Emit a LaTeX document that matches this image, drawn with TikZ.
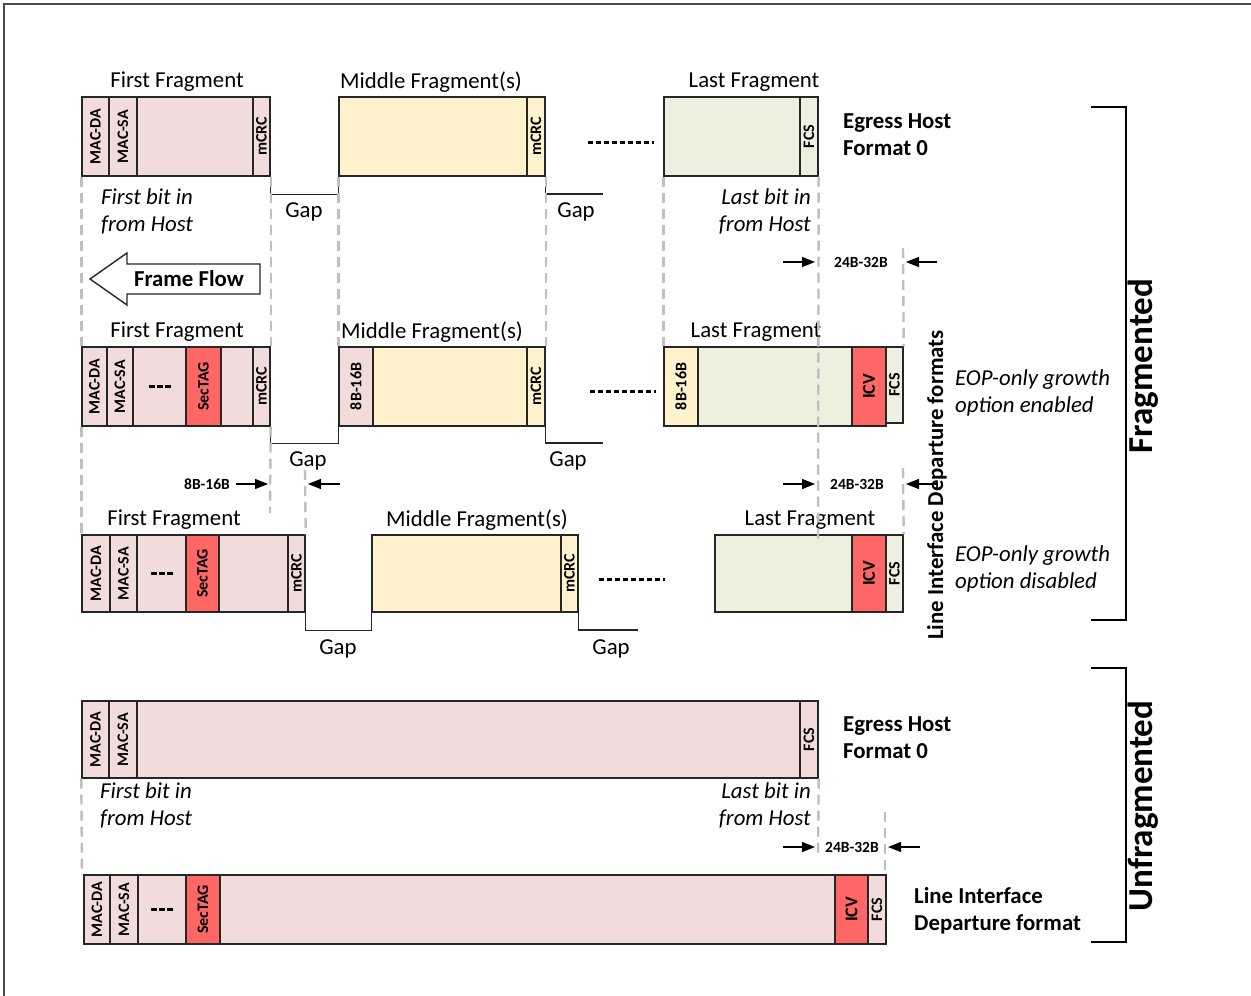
\documentclass[tikz,border=0pt]{standalone}
\usepackage{fontspec}
\setmainfont{Carlito}
\usetikzlibrary{arrows.meta}
\definecolor{pk}{HTML}{F2DCDB}
\definecolor{yl}{HTML}{FFF2CC}
\definecolor{gn}{HTML}{EBF1DE}
\definecolor{rd}{HTML}{FF6666}
\definecolor{gl}{HTML}{BFBFBF}
\definecolor{bd}{HTML}{262626}
\newcommand{\mainsz}{\fontsize{22.8}{27}\selectfont}
\newcommand{\cellfont}{\fontsize{16}{17}\selectfont\bfseries}
\newcommand{\dimfont}{\fontsize{15.5}{17}\selectfont\bfseries}
\newcommand{\bigsz}{\fontsize{35}{38}\selectfont\bfseries}
\newcommand{\rv}[1]{\rotatebox{90}{#1}}
\newcommand{\threedash}{\rule{6pt}{3.5pt}\hspace{2pt}\rule{6pt}{3.5pt}\hspace{2pt}\rule{6pt}{3.5pt}}
\newcommand{\pcell}[7]{\node[cellbox, fill=#6, minimum width={(#4-#2)*1pt}, minimum height={(#5-#3)*1pt}] (#1) at ({(#2+#4)/2},{(#3+#5)/2}) {#7};}
\tikzset{
  cellbox/.style={draw=bd, line width=1.4pt, inner sep=0pt, font=\cellfont},
  lbl/.style={font=\mainsz, inner sep=0pt},
  blbl/.style={font=\mainsz\bfseries, align=left, inner sep=0pt},
  ilbl/.style={font=\mainsz\itshape, inner sep=0pt},
  dimlbl/.style={font=\dimfont, inner sep=0pt},
  guide/.style={draw=gl, line width=2.4pt, dash pattern=on 10pt off 6pt},
  gapline/.style={draw=bd, line width=1.5pt},
  dimarrow/.style={-{Triangle[length=13pt,width=10pt]}, line width=1.4pt},
  dotline/.style={line width=3pt, dash pattern=on 5pt off 3pt},
  brk/.style={line width=2.5pt},
}
\begin{document}
\begin{tikzpicture}[x=1pt,y=-1pt]
\useasboundingbox (0,0) rectangle (1251,996);
\draw[line width=1.5pt, draw=gray!60!black] (4,996) -- (4,4) -- (1251,4);

% ---------- Row 1 : Egress host, fragmented ----------
\pcell{f1a}{82}{97}{109}{176}{pk}{\rv{MAC-DA}}
\pcell{f1b}{109}{97}{137}{176}{pk}{\rv{MAC-SA}}
\pcell{f1c}{137}{97}{253}{176}{pk}{}
\pcell{f1d}{253}{97}{270}{176}{pk}{\rv{mCRC}}
\pcell{m1a}{339}{97}{527}{176}{yl}{}
\pcell{m1b}{527}{97}{545}{176}{yl}{\rv{mCRC}}
\pcell{l1a}{664}{97}{800}{176}{gn}{}
\pcell{l1b}{800}{97}{818}{176}{gn}{\rv{FCS}}
\node[lbl] (t1a) at (177,82) {First Fragment};
\node[lbl] (t1b) at (431,82) {Middle Fragment(s)};
\node[lbl] (t1c) at (754,82) {Last Fragment};
\node[blbl, anchor=west] (eg1) at (843,134.5) {Egress Host\\Format 0};
\draw[gapline] (f1d.south east) -- ++(0,18) -| (m1a.south west);
\coordinate (g1e) at (603,194);
\draw[gapline] (m1b.south east) |- (g1e);
\node[lbl] (gap1) at (304,212) {Gap};
\node[lbl] (gap2) at (576,212) {Gap};
\coordinate (d1s) at (588,142); \coordinate (d1e) at (654,142);
\draw[dotline] (d1s) -- (d1e);
\node[ilbl, align=left, anchor=west] (fb1) at (101,211.5) {First bit in\\from Host};
\node[ilbl, align=right, anchor=east] (lb1) at (811,211.5) {Last bit in\\from Host};

% Frame flow arrow
\draw[line width=1.4pt, draw=bd, fill=white] (90,279) -- (127,253) -- (127,264) -- (260,264) -- (260,294) -- (127,294) -- (127,305) -- cycle;
\node[font=\mainsz\bfseries, inner sep=0pt] (ff) at (189,279) {Frame Flow};

% ---------- Row 2 ----------
\pcell{f2a}{82}{347}{107}{426}{pk}{\rv{MAC-DA}}
\pcell{f2b}{107}{347}{133}{426}{pk}{\rv{MAC-SA}}
\pcell{f2c}{133}{347}{186}{426}{pk}{\threedash}
\pcell{f2d}{186}{347}{221}{426}{rd}{\rv{SecTAG}}
\pcell{f2e}{221}{347}{253}{426}{pk}{}
\pcell{f2f}{253}{347}{270}{426}{pk}{\rv{mCRC}}
\pcell{m2a}{339}{347}{373}{426}{pk}{\rv{8B-16B}}
\pcell{m2b}{373}{347}{527}{426}{yl}{}
\pcell{m2c}{527}{347}{545}{426}{yl}{\rv{mCRC}}
\pcell{l2a}{664}{347}{698}{426}{yl}{\rv{8B-16B}}
\pcell{l2b}{698}{347}{852}{426}{gn}{}
\pcell{l2c}{852}{347}{886}{426}{rd}{\rv{\fontsize{18}{19}\selectfont ICV}}
\pcell{l2d}{886}{347}{903}{423}{gn}{\rv{FCS}}
\node[lbl] (t2a) at (177,332) {First Fragment};
\node[lbl] (t2b) at (432,332) {Middle Fragment(s)};
\node[lbl] (t2c) at (756,332) {Last Fragment};
\draw[gapline] (f2f.south east) -- ++(0,17) -| (m2a.south west);
\coordinate (g2e) at (603,443);
\draw[gapline] (m2c.south east) |- (g2e);
\node[lbl] (gap3) at (308,461) {Gap};
\node[lbl] (gap4) at (568,461) {Gap};
\coordinate (d2s) at (590,391); \coordinate (d2e) at (656,391);
\draw[dotline] (d2s) -- (d2e);
\node[ilbl, align=left, anchor=west] (eop1) at (955,392.5) {EOP-only growth\\option enabled};

% ---------- Row 3 ----------
\pcell{f3a}{82}{535}{110}{612}{pk}{\rv{MAC-DA}}
\pcell{f3b}{110}{535}{137}{612}{pk}{\rv{MAC-SA}}
\pcell{f3c}{137}{535}{186}{612}{pk}{\threedash}
\pcell{f3d}{186}{535}{219}{612}{rd}{\rv{SecTAG}}
\pcell{f3e}{219}{535}{288}{612}{pk}{}
\pcell{f3f}{288}{535}{305}{612}{pk}{\rv{mCRC}}
\pcell{m3a}{372}{535}{561}{612}{yl}{}
\pcell{m3b}{561}{535}{578}{612}{yl}{\rv{mCRC}}
\pcell{l3a}{715}{535}{852}{612}{gn}{}
\pcell{l3b}{852}{535}{886}{612}{rd}{\rv{\fontsize{18}{19}\selectfont ICV}}
\pcell{l3c}{886}{535}{903}{612}{gn}{\rv{FCS}}
\node[lbl] (t3a) at (174,520) {First Fragment};
\node[lbl] (t3b) at (477,520) {Middle Fragment(s)};
\node[lbl] (t3c) at (810,520) {Last Fragment};
\draw[gapline] (f3f.south east) -- ++(0,18) -| (m3a.south west);
\coordinate (g3e) at (638,630);
\draw[gapline] (m3b.south east) |- (g3e);
\node[lbl] (gap5) at (338,649) {Gap};
\node[lbl] (gap6) at (611,649) {Gap};
\coordinate (d3s) at (599,579); \coordinate (d3e) at (665,579);
\draw[dotline] (d3s) -- (d3e);
\node[ilbl, align=left, anchor=west] (eop2) at (955,568.5) {EOP-only growth\\option disabled};
\node[font=\mainsz\bfseries, rotate=90, inner sep=0pt] (lidf) at (937,485) {Line Interface Departure formats};

% guides rows 1-3
\draw[guide] (f1a.south west) -- (f2a.north west);
\draw[guide] (f1d.south east) -- (f2f.north east);
\draw[guide] (m1a.south west) -- (m2a.north west);
\draw[guide] (m1b.south east) -- (m2c.north east);
\draw[guide] (l1a.south west) -- (l2a.north west);
\draw[guide] (l1b.south east) -- (818,542);
\draw[guide] (903,248) -- (l2d.north east);
\draw[guide] (f2a.south west) -- (f3a.north west);
\draw[guide] (f2f.south east) -- (270,513);
\draw[guide] (305,470) -- (f3f.north east);
\draw[guide] (903,468) -- (l3c.north east);

% dimension arrows
\coordinate (a1s) at (783,262); \coordinate (a1e) at (815,262);
\coordinate (a2s) at (937,262); \coordinate (a2e) at (906,262);
\draw[dimarrow] (a1s) -- (a1e);
\draw[dimarrow] (a2s) -- (a2e);
\node[dimlbl] (dl1) at (861,262) {24B-32B};
\coordinate (a3s) at (236,484); \coordinate (a3e) at (268,484);
\coordinate (a4s) at (340,484); \coordinate (a4e) at (308,484);
\draw[dimarrow] (a3s) -- (a3e);
\draw[dimarrow] (a4s) -- (a4e);
\node[dimlbl] (dl2) at (207,484) {8B-16B};
\coordinate (a5s) at (783,484); \coordinate (a5e) at (815,484);
\coordinate (a6s) at (937,484); \coordinate (a6e) at (906,484);
\draw[dimarrow] (a5s) -- (a5e);
\draw[dimarrow] (a6s) -- (a6e);
\node[dimlbl] (dl3) at (857,484) {24B-32B};

% Fragmented bracket
\coordinate (b1a) at (1091,107); \coordinate (b1b) at (1091,620);
\draw[brk] (b1a) -- (1126,107) -- (1126,620) -- (b1b);
\node[font=\bigsz, rotate=90, inner sep=0pt] (frg) at (1143,366) {Fragmented};

% ---------- Row 4 : unfragmented egress ----------
\pcell{u1a}{82}{701}{109}{778}{pk}{\rv{MAC-DA}}
\pcell{u1b}{109}{701}{137}{778}{pk}{\rv{MAC-SA}}
\pcell{u1c}{137}{701}{800}{778}{pk}{}
\pcell{u1d}{800}{701}{818}{778}{pk}{\rv{FCS}}
\node[blbl, anchor=west] (eg2) at (843,738) {Egress Host\\Format 0};
\node[ilbl, align=left, anchor=west] (fb2) at (100,805.5) {First bit in\\from Host};
\node[ilbl, align=right, anchor=east] (lb2) at (811,805.5) {Last bit in\\from Host};

% ---------- Row 5 : line interface ----------
\pcell{u2a}{84}{875}{110}{944}{pk}{\rv{MAC-DA}}
\pcell{u2b}{110}{875}{138}{944}{pk}{\rv{MAC-SA}}
\pcell{u2c}{138}{875}{186}{944}{pk}{\threedash}
\pcell{u2d}{186}{875}{220}{944}{rd}{\rv{SecTAG}}
\pcell{u2e}{220}{875}{835}{944}{pk}{}
\pcell{u2f}{835}{875}{868}{944}{rd}{\rv{\fontsize{18}{19}\selectfont ICV}}
\pcell{u2g}{868}{875}{886}{944}{pk}{\rv{FCS}}
\node[blbl, anchor=west] (lid) at (914,910.5) {Line Interface\\Departure format};

\draw[guide] (u1a.south west) -- (82,875);
\draw[guide] (u1d.south east) -- (818,857);
\draw[guide] (885,812) -- (885,875);
\coordinate (a7s) at (783,847); \coordinate (a7e) at (815,847);
\coordinate (a8s) at (920,847); \coordinate (a8e) at (888,847);
\draw[dimarrow] (a7s) -- (a7e);
\draw[dimarrow] (a8s) -- (a8e);
\node[dimlbl] (dl4) at (852,847) {24B-32B};

\coordinate (b2a) at (1091,668); \coordinate (b2b) at (1091,942);
\draw[brk] (b2a) -- (1126,668) -- (1126,942) -- (b2b);
\node[font=\bigsz, rotate=90, inner sep=0pt] (ufr) at (1143,806) {Unfragmented};
\end{tikzpicture}
\end{document}
